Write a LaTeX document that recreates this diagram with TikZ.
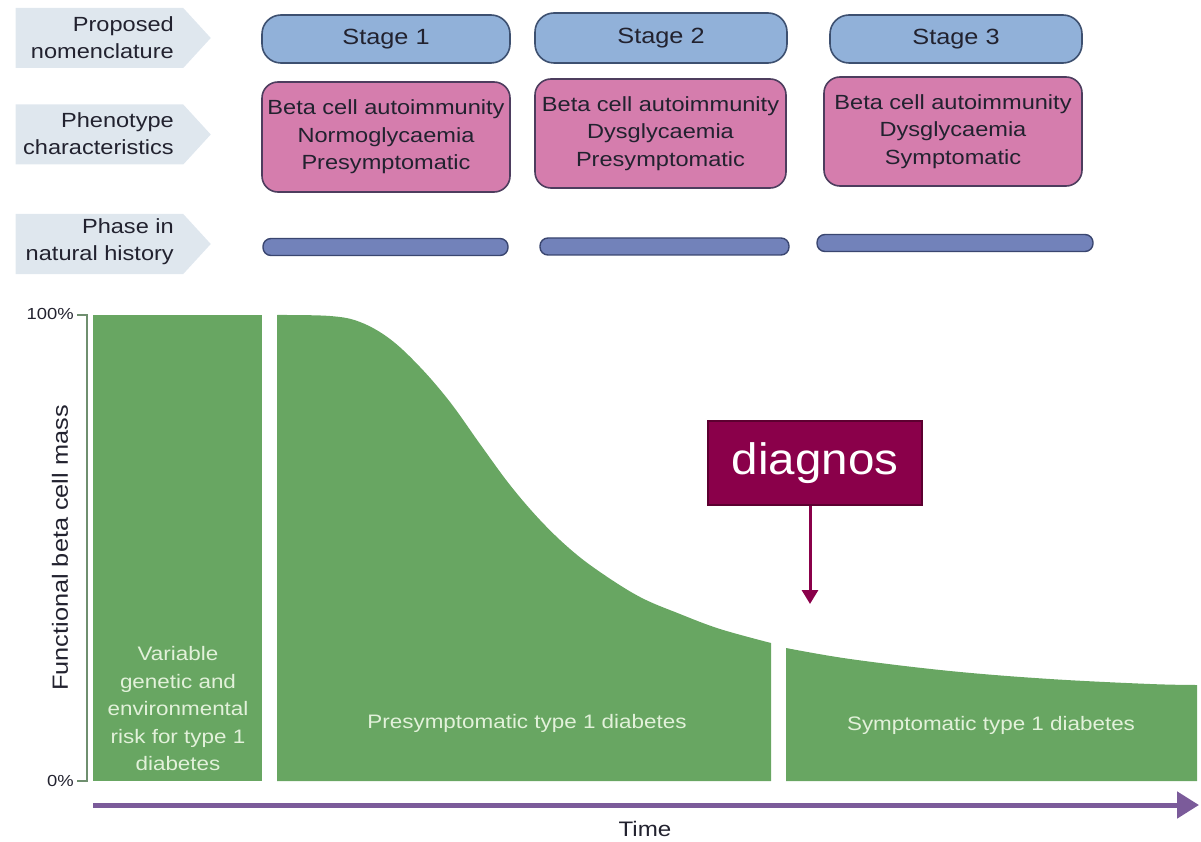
\documentclass[tikz,border=0pt]{standalone}
\usepackage{fontspec}
\setmainfont{Liberation Sans}[FakeStretch=1.15]
\newfontfamily\diagfont{Liberation Sans}[FakeStretch=1.08]
\usetikzlibrary{shapes.symbols,arrows.meta}
\definecolor{chevfill}{HTML}{DFE7EE}
\definecolor{stagefill}{HTML}{91B1D9}
\definecolor{stageline}{HTML}{3D5070}
\definecolor{pinkfill}{HTML}{D57DAD}
\definecolor{pinkline}{HTML}{4D3D5E}
\definecolor{phasefill}{HTML}{7282BA}
\definecolor{phaseline}{HTML}{3A4670}
\definecolor{greenfill}{HTML}{68A662}
\definecolor{greentext}{HTML}{E2F1DA}
\definecolor{axiscol}{HTML}{6F8F6F}
\definecolor{timecol}{HTML}{7B5B9A}
\definecolor{diagfill}{HTML}{8A004A}
\definecolor{diagline}{HTML}{5C0030}
\definecolor{txt}{HTML}{22222F}
\tikzset{
  chev/.style={shape=signal, signal to=east, signal pointer angle=95, fill=chevfill, draw=none,
    minimum width=195pt, minimum height=60pt, inner sep=0pt},
  lbl/.style={anchor=east, align=right, font=\fontsize{20.5}{27}\selectfont, text=txt, inner sep=0pt},
  stagebox/.style={draw=stageline, line width=1.6pt, fill=stagefill, rounded corners=19pt,
    inner sep=0pt, font=\fontsize{22}{26}\selectfont, text=txt},
  pinkbox/.style={draw=pinkline, line width=1.6pt, fill=pinkfill, rounded corners=16pt,
    inner sep=0pt, align=center, font=\fontsize{20.5}{27.5}\selectfont, text=txt},
  phasebar/.style={draw=phaseline, line width=1.4pt, fill=phasefill, rounded corners=8pt,
    inner sep=0pt, minimum height=17pt},
  gtext/.style={text=greentext, align=center, font=\fontsize{19.5}{27.5}\selectfont, inner sep=0pt},
  axlbl/.style={font=\fontsize{16}{18}\selectfont, text=txt, inner sep=0pt},
}
\begin{document}
\begin{tikzpicture}[x=1pt,y=-1pt]
\useasboundingbox (0,0) rectangle (1201,842);
% left chevrons
\node[chev] (c1) at (99.5,38) {};
\node[chev] (c2) at (99.5,134.5) {};
\node[chev] (c3) at (99.5,244) {};
\node[lbl] (l1) at (174,38) {Proposed\\nomenclature};
\node[lbl] (l2) at (174,134) {Phenotype\\characteristics};
\node[lbl] (l3) at (174,242) {Phase in\\natural history};
% stage boxes
\node[stagebox, minimum width=248pt, minimum height=48pt] (s1) at (386,39) {Stage 1};
\node[stagebox, minimum width=252pt, minimum height=50pt] (s2) at (661,38) {Stage 2};
\node[stagebox, minimum width=252pt, minimum height=48pt] (s3) at (956,39) {Stage 3};
% phenotype boxes
\node[pinkbox, minimum width=248pt, minimum height=110pt] (p1) at (386,137) {Beta cell autoimmunity\\Normoglycaemia\\Presymptomatic};
\node[pinkbox, minimum width=251pt, minimum height=109pt] (p2) at (660.5,133.5) {Beta cell autoimmunity\\Dysglycaemia\\Presymptomatic};
\node[pinkbox, minimum width=258pt, minimum height=109pt] (p3) at (953,131.5) {Beta cell autoimmunity\\Dysglycaemia\\Symptomatic};
% phase bars
\node[phasebar, minimum width=245pt] (b1) at (385.5,247) {};
\node[phasebar, minimum width=249pt] (b2) at (664.5,246.5) {};
\node[phasebar, minimum width=276pt] (b3) at (955,243) {};
% green areas
\fill[greenfill] (93,315) rectangle (262,781);
\fill[greenfill] (277,781) --
  plot[smooth, tension=0.6] coordinates {(277,315) (330,316) (360,322) (390,339) (420,367) (450,402) (480,444) (510,485) (540,520) (570,549) (600,572) (640,597) (680,614) (720,629) (771,643)}
  -- (771,781) -- cycle;
\fill[greenfill] (786,781) --
  plot[smooth, tension=0.6] coordinates {(786,648) (850,659) (950,671) (1050,679) (1150,684) (1197,685)}
  -- (1197,781) -- cycle;
% texts in green
\node[gtext] (g1) at (178,709) {Variable\\genetic and\\environmental\\risk for type 1\\diabetes};
\node[gtext] (g2) at (527,723) {Presymptomatic type 1 diabetes};
\node[gtext] (g3) at (991,725) {Symptomatic type 1 diabetes};
% y axis
\coordinate (ytop) at (87,315);
\coordinate (ybot) at (87,781);
\draw[axiscol, line width=2.5pt] (77,315) -- (ytop) -- (ybot) -- (77,781);
\node[axlbl, anchor=east] (y100) at (74,314) {100\%};
\node[axlbl, anchor=east] (y0) at (74,781) {0\%};
\node[rotate=90, font=\fontsize{22}{24}\selectfont, text=txt, inner sep=0pt] (ylab) at (60,548) {Functional beta cell mass};
% time axis
\coordinate (t0) at (93,805);
\coordinate (t1) at (1199,805);
\draw[timecol, line width=5pt, -{Triangle[width=26pt,length=22pt]}] (t0) -- (t1);
\node[font=\fontsize{21}{24}\selectfont, text=txt, inner sep=0pt] (time) at (645,829) {Time};
% diagnosis
\node[draw=diagline, line width=2pt, fill=diagfill, text=white, minimum width=214pt, minimum height=84pt,
  inner sep=0pt, font=\diagfont\fontsize{44}{50}\selectfont] (diag) at (815,463) {diagnos};
\coordinate (darr) at (810,604);
\draw[diagfill, line width=3pt, -{Triangle[width=16pt,length=14pt]}] (diag.south -| darr) -- (darr);
\end{tikzpicture}
\end{document}
